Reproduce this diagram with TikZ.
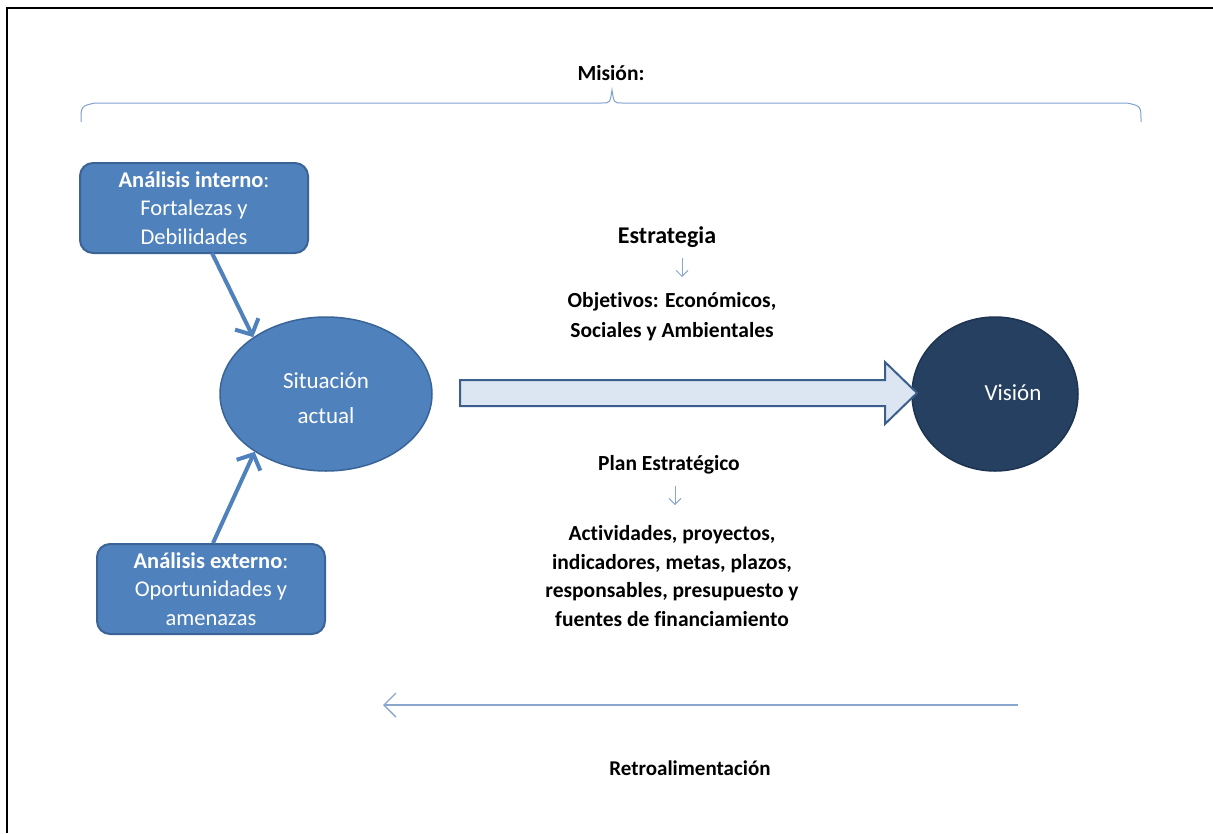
\documentclass[tikz,border=0pt]{standalone}
\usepackage{fontspec}
\setmainfont{Carlito}[Ligatures={NoCommon}]
\usetikzlibrary{arrows.meta,shapes.geometric}
\definecolor{boxfill}{HTML}{4F81BD}
\definecolor{boxline}{HTML}{3A6496}
\definecolor{visfill}{HTML}{254061}
\definecolor{visline}{HTML}{1D3350}
\definecolor{arrfill}{HTML}{DCE6F2}
\definecolor{arrline}{HTML}{3A5F8C}
\definecolor{thinblue}{HTML}{8AA6CC}
\definecolor{bracecol}{HTML}{7FA0CC}
\begin{document}
\begin{tikzpicture}[x=1pt,y=-1pt,
  boxnode/.style={draw=boxline,line width=2pt,fill=boxfill,rounded corners=13pt,
     minimum width=228pt,minimum height=90pt,inner sep=0pt,text=white,align=center,
     font=\fontsize{22.5}{28.2}\selectfont},
  ovalnode/.style={ellipse,draw,line width=1.5pt,inner sep=0pt,text=white,align=center,
     font=\fontsize{23}{35}\selectfont},
  lbl/.style={align=center,inner sep=0pt,font=\fontsize{21.5}{28.5}\selectfont\bfseries},
  feed/.style={draw=boxfill,line width=4pt,-{Straight Barb[length=12pt,width=26pt,line width=4pt]}},
  thinarr/.style={draw=thinblue,line width=1pt,-{Straight Barb[length=6pt,width=12pt]}}]
\useasboundingbox (0,0) rectangle (1213,833);
\draw[line width=2.5pt] (7,833) -- (7,8) -- (1213,8);
% Mision brace
\node[lbl] (mision) at (611,73) {Misión:};
\draw[bracecol,line width=1pt] (81,122) .. controls (81,106) .. (95,103) -- (602,103)
  .. controls (610,103) .. (612,90) .. controls (614,103) .. (622,103) -- (1127,103)
  .. controls (1141,106) .. (1141,122);
% boxes
\node[boxnode] (ai) at (194,208) {\textbf{Análisis interno}:\\Fortalezas y\\Debilidades};
\node[boxnode] (ae) at (211,589) {\textbf{Análisis externo}:\\Oportunidades y\\amenazas};
% ellipses
\node[ovalnode,fill=boxfill,draw=boxline,minimum width=212pt,minimum height=154pt] (sa) at (326,394) {};
\node[text=white,align=center,font=\fontsize{23}{35}\selectfont] (satext) at (326,398) {Situación\\actual};
\node[ovalnode,fill=visfill,draw=visline,minimum width=166pt,minimum height=154pt] (vi) at (995,394) {};
\node[text=white,font=\fontsize{23}{35}\selectfont] (vitext) at (1013,393) {Visión};
% input arrows
\coordinate (a1) at (212,253);
\coordinate (a2) at (213,543);
\draw[feed] (a1) -- (sa.142);
\draw[feed] (a2) -- (sa.219);
% big arrow
\draw[fill=arrfill,draw=arrline,line width=2pt,line join=miter]
  (460,380) -- (885,380) -- (885,362) -- (917,393) -- (885,424) -- (885,406) -- (460,406) -- cycle;
% strategy labels
\node[lbl,font=\fontsize{24}{28}\selectfont\bfseries] (est) at (667,237) {Estrategia};
\coordinate (e1) at (682,258);
\coordinate (e2) at (682,277);
\draw[thinarr] (e1) -- (e2);
\node[lbl,font=\fontsize{21.5}{30}\selectfont\bfseries] (obj) at (672,317) {Objetivos: Económicos,\\Sociales y Ambientales};
\node[lbl] (plan) at (669,465) {Plan Estratégico};
\coordinate (p1) at (675,486);
\coordinate (p2) at (675,505);
\draw[thinarr] (p1) -- (p2);
\node[lbl] (act) at (672,576) {Actividades, proyectos,\\indicadores, metas, plazos,\\responsables, presupuesto y\\fuentes de financiamiento};
% feedback
\coordinate (f1) at (1018,705);
\coordinate (f2) at (383,705);
\draw[thinblue,line width=1.3pt,-{Straight Barb[length=12pt,width=24pt]}] (f1) -- (f2);
\node[lbl,font=\fontsize{21}{28}\selectfont\bfseries] (retro) at (690,768) {Retroalimentación};
\end{tikzpicture}
\end{document}
